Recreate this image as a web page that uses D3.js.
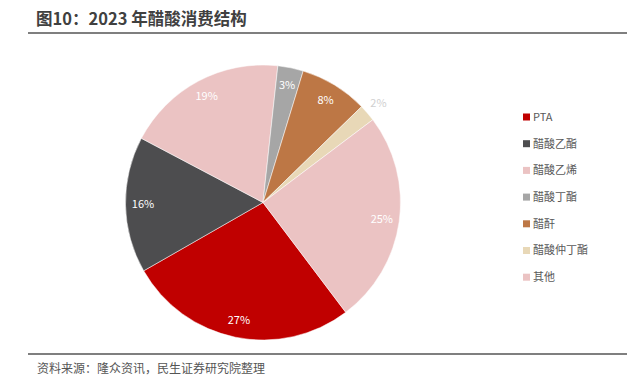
<!DOCTYPE html>
<html>
<head>
<meta charset="utf-8">
<title>2023 年醋酸消费结构</title>
<script src="https://d3js.org/d3.v7.min.js"></script>
<style>
  body { margin: 0; background: #fff; }
  text { font-family: "Microsoft YaHei", "Noto Sans CJK SC", sans-serif; }
</style>
</head>
<body>
<script>
// data
const categories = ["PTA", "醋酸乙酯", "醋酸乙烯", "醋酸丁酯", "醋酐", "醋酸仲丁酯", "其他"];
const shares = [27, 16, 19, 3, 8, 2, 25];
const colors = ["#c00000", "#4d4d4f", "#ebc3c3", "#a6a6a6", "#bd7745", "#e8d8b7", "#ebc3c3"];

const width = 641, height = 391;
const cx = 263, cy = 202.5, radius = 137.5;

let svg = d3.select("body").append("svg")
    .attr("width", width)
    .attr("height", height);

// title + rules
svg.append("text")
    .attr("x", 36).attr("y", 25)
    .attr("font-size", 16.5).attr("font-weight", "bold")
    .attr("fill", "#404040")
    .text("图10：2023 年醋酸消费结构");

svg.append("line")
    .attr("x1", 28).attr("x2", 627).attr("y1", 33).attr("y2", 33)
    .attr("stroke", "#555").attr("stroke-width", 1.6);

svg.append("line")
    .attr("x1", 28).attr("x2", 627).attr("y1", 354).attr("y2", 354)
    .attr("stroke", "#555").attr("stroke-width", 1.6);

svg.append("text")
    .attr("x", 37).attr("y", 373)
    .attr("font-size", 12).attr("fill", "#555")
    .text("资料来源：隆众资讯，民生证券研究院整理");

// pie
let startA = 143 * Math.PI / 180;
let pie = d3.pie().sort(null)
    .startAngle(startA).endAngle(startA + 2 * Math.PI);
let arcs = pie(shares);

let arc = d3.arc().innerRadius(0).outerRadius(radius);

let g = svg.append("g").attr("transform", `translate(${cx},${cy})`);

g.selectAll("path")
    .data(arcs)
    .enter()
    .append("path")
    .attr("d", arc)
    .attr("fill", (d, i) => colors[i])
    .attr("stroke", "#fff")
    .attr("stroke-width", 0.5);

// labels: inside for most, the tiny slice sits outside
let labelArc = d3.arc().innerRadius(120).outerRadius(120);
let outerArc = d3.arc().innerRadius(152).outerRadius(152);

g.selectAll(".lbl")
    .data(arcs)
    .enter()
    .append("text")
    .attr("class", "lbl")
    .attr("transform", d => `translate(${(d.data < 3 ? outerArc : labelArc).centroid(d)})`)
    .attr("text-anchor", "middle")
    .attr("dy", "0.35em")
    .attr("font-size", 11)
    .attr("fill", d => d.data < 3 ? "#d0d0d0" : "#fff")
    .text(d => d.data + "%");

// legend
let legend = svg.append("g").attr("transform", "translate(523,117)");
let rows = legend.selectAll("g")
    .data(categories)
    .enter()
    .append("g")
    .attr("transform", (d, i) => `translate(0,${i * 26.7})`);

rows.append("rect")
    .attr("x", 0).attr("y", -3.5)
    .attr("width", 7).attr("height", 7)
    .attr("fill", (d, i) => colors[i]);

rows.append("text")
    .attr("x", 10).attr("dy", "0.36em")
    .attr("font-size", 11).attr("fill", "#595959")
    .text(d => d);
</script>
</body>
</html>
